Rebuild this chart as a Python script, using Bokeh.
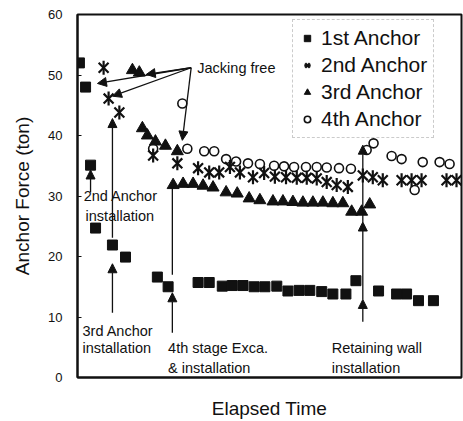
import math
from bokeh.plotting import figure
from bokeh.models import (Range1d, FixedTicker, Legend, LegendItem, Arrow,
                          NormalHead, ColumnDataSource)
from bokeh.embed import file_html
from bokeh.resources import INLINE
from bokeh.core.properties import value

# ---------------- data (elapsed time in arbitrary units 0-100, force in ton) -------------
t1 = [0.5, 2.1, 3.4, 4.7, 9.1, 12.5, 20.8, 23.6, 31.4, 34.3, 37.7, 40.3, 43.1, 46.0,
      48.8, 51.9, 54.8, 57.7, 60.5, 63.6, 66.5, 69.9, 72.5, 78.4, 83.1, 85.7, 88.8, 92.7]
f1 = [52.0, 48.0, 35.1, 24.7, 21.9, 19.9, 16.6, 15.0, 15.7, 15.7, 15.1, 15.2, 15.2, 15.0,
      15.0, 15.1, 14.3, 14.4, 14.4, 14.2, 13.8, 13.8, 16.0, 14.3, 13.8, 13.8, 12.7, 12.7]

t2 = [6.8, 8.1, 10.9, 19.7, 26.0, 31.4, 34.3, 36.9, 39.7, 42.3, 45.7, 48.6, 51.4, 54.3,
      57.1, 59.7, 62.3, 64.9, 67.5, 70.4, 74.3, 76.9, 79.5, 84.4, 87.0, 89.6, 96.1, 98.7]
f2 = [51.2, 46.1, 43.8, 36.7, 35.4, 34.6, 33.9, 33.9, 34.8, 33.9, 33.1, 33.8, 33.2, 33.1,
      33.0, 33.0, 32.9, 32.3, 31.8, 31.5, 33.4, 33.1, 32.6, 32.6, 32.6, 32.6, 32.6, 32.6]

t3 = [14.3, 16.1, 16.9, 18.2, 20.3, 22.9, 26.0, 24.9, 27.5, 30.1, 32.7, 35.3, 38.7, 41.6,
      44.7, 47.5, 50.9, 53.5, 56.1, 58.7, 61.3, 63.9, 66.5, 69.1, 71.4, 74.0, 76.1]
f3 = [50.8, 50.4, 41.2, 40.0, 39.0, 38.3, 37.4, 31.8, 32.0, 32.0, 31.7, 31.4, 30.6, 30.4,
      29.6, 29.3, 29.1, 29.1, 29.0, 28.9, 28.9, 28.9, 28.8, 28.8, 27.4, 27.4, 28.6]

t4 = [19.7, 27.3, 28.6, 33.0, 35.6, 38.7, 41.3, 44.4, 47.5, 51.2, 53.8, 56.4, 59.5, 62.3,
      64.9, 68.1, 71.2, 75.3, 77.1, 81.8, 84.4, 87.8, 89.9, 94.3, 96.9]
f4 = [37.8, 45.3, 37.8, 37.4, 37.4, 36.1, 35.7, 35.4, 35.3, 35.0, 34.9, 34.8, 34.8, 34.8,
      34.7, 34.6, 34.5, 37.6, 38.7, 36.6, 36.1, 31.0, 35.6, 35.6, 35.3]

series_labels = ["1st Anchor", "2nd Anchor", "3rd Anchor", "4th Anchor"]
y_ticks = [0, 10, 20, 30, 40, 50, 60]

# annotation texts (left x, middle y)
note_text = ["Jacking free", "2nd Anchor", "installation", "3rd Anchor", "installation",
             "4th stage Exca.", "& installation", "Retaining wall", "installation"]
note_x = [31.2, 1.6, 2.1, 1.3, 1.3, 23.6, 23.6, 66.2, 66.2]
note_y = [51.2, 30.0, 26.7, 7.7, 4.8, 4.8, 1.5, 4.8, 1.6]

# arrows with heads
arr_x0 = [29.6, 29.6, 29.6, 29.6, 3.4, 9.1, 9.1, 24.7, 74.3, 74.3, 74.3]
arr_y0 = [51.2, 51.2, 51.2, 51.2, 30.6, 10.7, 23.1, 7.4, 9.2, 12.9, 25.7]
arr_x1 = [5.2, 9.1, 17.9, 27.3, 3.4, 9.1, 9.1, 24.7, 74.3, 74.3, 74.3]
arr_y1 = [48.6, 46.5, 50.1, 39.2, 34.3, 18.8, 42.8, 14.0, 12.9, 25.7, 38.4]
# plain line
seg_x0, seg_y0, seg_x1, seg_y1 = [24.7], [17.0], [24.7], [31.5]

FONT = "Liberation Sans"
INK = "#111111"

p = figure(width=463, height=421, output_backend="svg", toolbar_location=None,
           x_range=Range1d(0, 100), y_range=Range1d(0, 60),
           min_border_left=77, min_border_right=2, min_border_top=14, min_border_bottom=43)
p.grid.visible = False
p.outline_line_color = INK
p.outline_line_width = 2
p.background_fill_color = "white"
p.border_fill_color = "white"

ya = p.yaxis[0]
ya.ticker = FixedTicker(ticks=y_ticks)
ya.minor_tick_line_color = None
ya.major_tick_in = 4
ya.major_tick_out = 0
ya.major_tick_line_color = INK
ya.axis_line_color = INK
ya.axis_line_width = 2
ya.major_label_standoff = 15
ya.major_label_text_font = FONT
ya.major_label_text_font_size = "13px"
ya.major_label_text_color = INK
ya.axis_label = "Anchor Force (ton)"
ya.axis_label_text_font = FONT
ya.axis_label_text_font_size = "19px"
ya.axis_label_text_font_style = "normal"
ya.axis_label_text_color = INK
ya.axis_label_standoff = 12

xa = p.xaxis[0]
xa.ticker = FixedTicker(ticks=[])
xa.minor_tick_line_color = None
xa.major_tick_line_color = None
xa.major_label_text_font_size = "0px"
xa.axis_line_color = INK
xa.axis_line_width = 2
xa.axis_label = "Elapsed Time"
xa.axis_label_text_font = FONT
xa.axis_label_text_font_size = "19px"
xa.axis_label_text_font_style = "normal"
xa.axis_label_text_color = INK
xa.axis_label_standoff = 20

r1 = p.scatter(t1, f1, marker="square", size=10, fill_color=INK, line_color=INK)
r2a = p.scatter(t2, f2, marker="x", size=14, line_color=INK, line_width=2.2)
r2b = p.scatter(t2, f2, marker="dash", size=14, angle=math.pi / 2, line_color=INK, line_width=2.2)
r3 = p.scatter(t3, f3, marker="triangle", size=12, fill_color=INK, line_color=INK)
r4 = p.scatter(t4, f4, marker="circle", size=9, fill_color=None, line_color=INK, line_width=1.6)

asrc = ColumnDataSource(dict(x0=arr_x0, y0=arr_y0, x1=arr_x1, y1=arr_y1))
p.add_layout(Arrow(end=NormalHead(size=9, fill_color=INK, line_color=INK, line_width=1),
                   x_start="x0", y_start="y0", x_end="x1", y_end="y1", source=asrc,
                   line_color=INK, line_width=1.3))
p.segment(seg_x0, seg_y0, seg_x1, seg_y1, line_color=INK, line_width=1.3)

p.text(note_x, note_y, text=note_text, text_font=value(FONT), text_font_size="14.5px",
       text_baseline="middle", text_align="left", text_color=INK)

legend = Legend(items=[LegendItem(label=series_labels[0], renderers=[r1]),
                       LegendItem(label=series_labels[1], renderers=[r2a, r2b]),
                       LegendItem(label=series_labels[2], renderers=[r3]),
                       LegendItem(label=series_labels[3], renderers=[r4])],
                location=(215, 239), margin=0, padding=6, spacing=3,
                glyph_width=16, glyph_height=20, label_height=20, label_standoff=6,
                label_text_font=FONT, label_text_font_size="21px", label_text_color=INK,
                border_line_color="#999999", border_line_width=1, border_line_dash="2 2",
                background_fill_color="white", background_fill_alpha=0.0)
p.add_layout(legend, "center")

open("out.html", "w").write(file_html(p, INLINE))
